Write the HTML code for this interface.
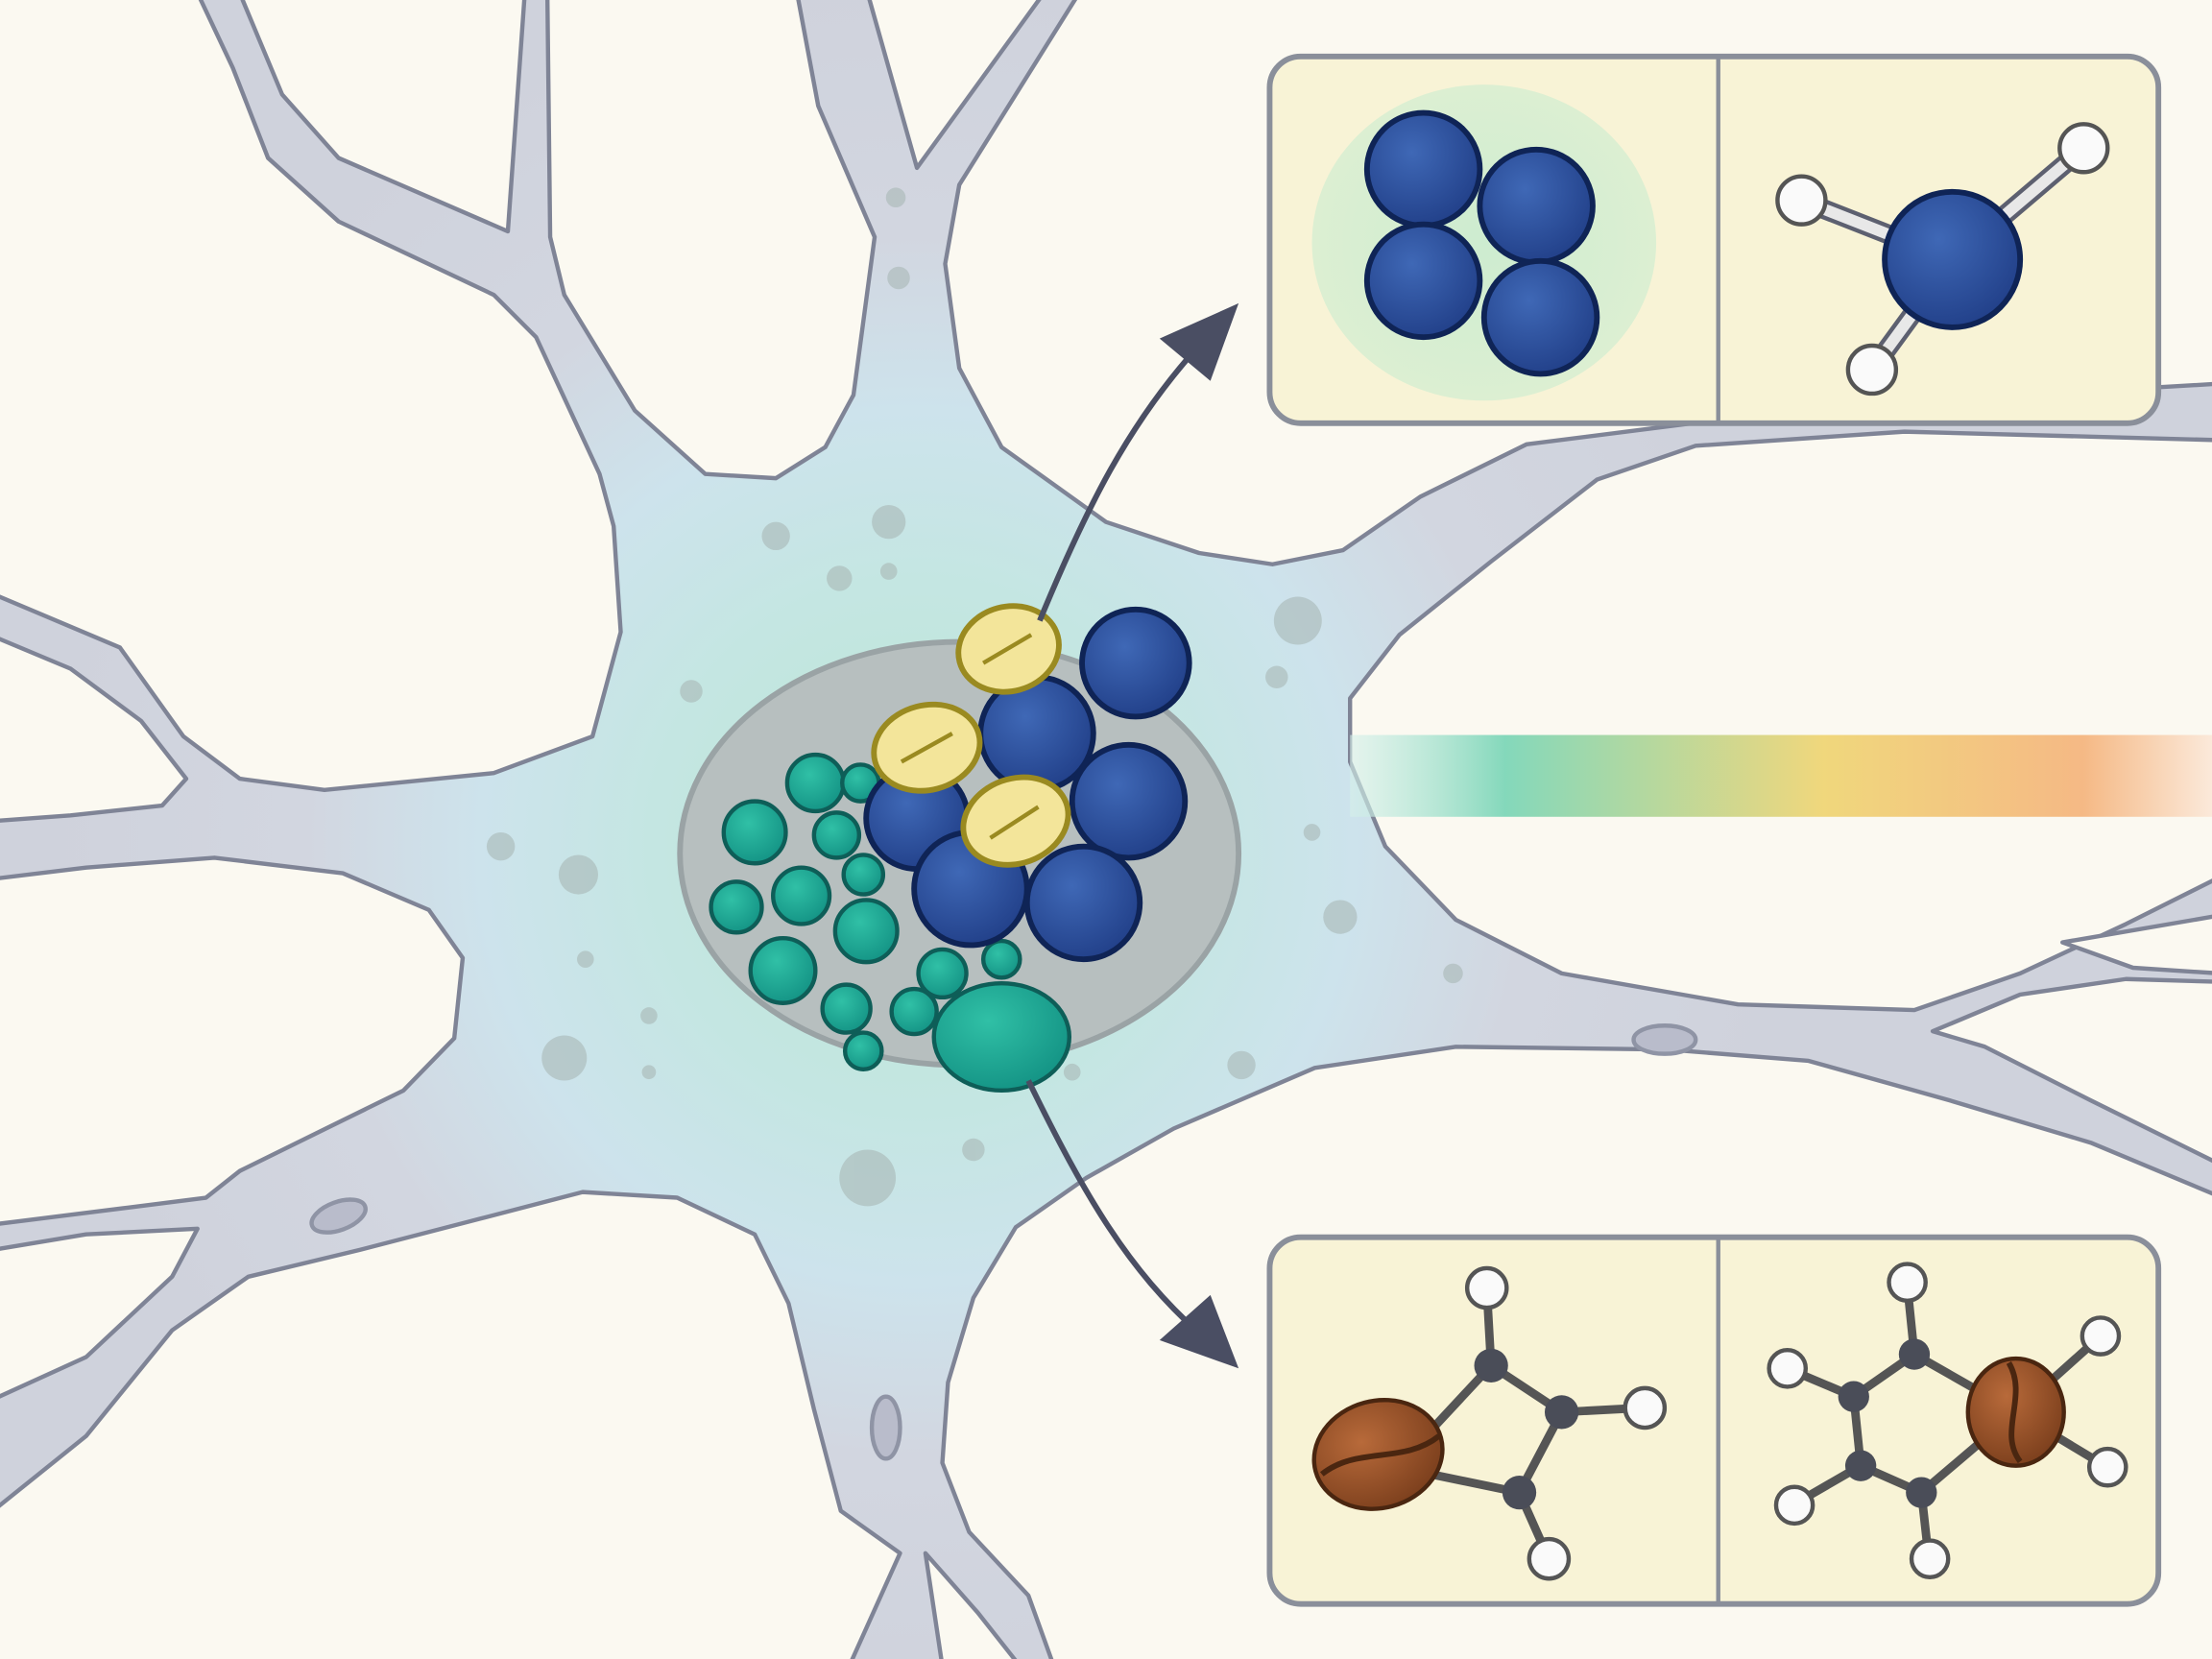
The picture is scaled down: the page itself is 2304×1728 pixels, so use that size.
<!DOCTYPE html>
<html><head><meta charset="utf-8"><style>html,body{margin:0;padding:0;background:#fbf9f1;}svg{display:block}</style></head>
<body>
<svg width="2304" height="1728" viewBox="0 0 1568 1176" xmlns="http://www.w3.org/2000/svg">
<defs>
<linearGradient id="bar" x1="0" x2="1" y1="0" y2="0">
<stop offset="0" stop-color="#d6f0ea" stop-opacity="0.6"/>
<stop offset="0.18" stop-color="#84d8bb"/>
<stop offset="0.55" stop-color="#f0d77c"/>
<stop offset="0.85" stop-color="#f5b985"/>
<stop offset="1" stop-color="#fbe9da"/>
</linearGradient>
<radialGradient id="cell" gradientUnits="userSpaceOnUse" cx="650" cy="600" r="620">
<stop offset="0" stop-color="#bce6d4"/>
<stop offset="0.3" stop-color="#c4e6e2"/>
<stop offset="0.5" stop-color="#cde3ec"/>
<stop offset="0.7" stop-color="#d2d6e0"/>
<stop offset="1" stop-color="#cfd2dc"/>
</radialGradient>
<radialGradient id="blue" cx="0.4" cy="0.35" r="0.7">
<stop offset="0" stop-color="#3f68b6"/><stop offset="1" stop-color="#213f88"/>
</radialGradient>
<radialGradient id="teal" cx="0.4" cy="0.35" r="0.7">
<stop offset="0" stop-color="#30c0a6"/><stop offset="1" stop-color="#139284"/>
</radialGradient>
<radialGradient id="glow" cx="0.5" cy="0.5" r="0.5">
<stop offset="0" stop-color="#cdecd0"/><stop offset="1" stop-color="#dcefd2"/>
</radialGradient>
<radialGradient id="bean" cx="0.4" cy="0.35" r="0.7">
<stop offset="0" stop-color="#b86a3a"/><stop offset="1" stop-color="#7a3e1c"/>
</radialGradient>
</defs>
<rect width="1568" height="1176" fill="url(#cell)"/>

<g fill="#fbf9f1" stroke="#7f8496" stroke-width="3" stroke-linejoin="round">
<path d="M-5,-5 L140,-5 L165,48 L190,112 L240,157 L350,209 L380,239 L425,336 L435,373 L440,448 L420,522 L350,548 L230,560 L170,552 L130,522 L85,459 L-5,421 Z"/>
<path d="M-5,451 L50,474 L100,511 L132,552 L115,571 L50,578 L-5,582 Z"/>
<path d="M172,-5 L172,0 L200,67 L240,112 L360,164 L372,-5 Z"/>
<path d="M388,-5 L390,168 L400,209 L450,291 L500,336 L550,339 L585,317 L605,280 L620,168 L580,75 L565,-5 Z"/>
<path d="M615,-5 L650,119 L740,-5 Z"/>
<path d="M765,-5 L680,131 L670,187 L680,261 L710,317 L784,370 L850,392 L902,400 L952,390 L1007,352 L1082,315 L1200,300 L1350,285 L1573,272 L1573,-5 Z"/>
<path d="M1573,312 L1350,306 L1202,316 L1132,340 L1057,398 L992,450 L957,495 L957,540 L982,600 L1032,652 L1107,690 L1232,712 L1357,716 L1432,690 L1507,655 L1573,622 Z"/>
<path d="M1370,731 L1432,705 L1507,694 L1573,696 L1573,825 L1482,780 L1407,742 Z"/>
<path d="M1462,668 L1573,649 L1573,690 L1512,686 Z"/>
<path d="M1573,848 L1482,810 L1382,780 L1282,752 L1182,744 L1032,742 L932,757 L832,800 L770,835 L720,870 L690,920 L672,980 L668,1037 L687,1086 L729,1131 L747,1181 L1573,1181 Z"/>
<path d="M-5,623 L61,615 L152,608 L243,619 L304,645 L328,679 L322,736 L286,773 L231,800 L170,830 L146,849 L91,856 L-5,868 Z"/>
<path d="M-5,886 L61,875 L140,871 L122,905 L61,962 L-5,992 Z"/>
<path d="M-5,1181 L-5,1071 L61,1018 L122,943 L176,905 L255,886 L340,864 L413,845 L480,849 L535,875 L559,924 L577,999 L596,1071 L638,1101 L602,1181 Z"/>
<path d="M656,1101 L693,1143 L723,1181 L668,1181 Z"/>
</g>

<rect x="957" y="521" width="611" height="58" fill="url(#bar)"/>

<g fill="#a9b8b6" opacity="0.6">
<circle cx="550" cy="380" r="10"/><circle cx="630" cy="370" r="12"/><circle cx="595" cy="410" r="9"/><circle cx="630" cy="405" r="6"/>
<circle cx="490" cy="490" r="8"/><circle cx="355" cy="600" r="10"/><circle cx="410" cy="620" r="14"/><circle cx="415" cy="680" r="6"/>
<circle cx="400" cy="750" r="16"/><circle cx="460" cy="720" r="6"/><circle cx="460" cy="760" r="5"/><circle cx="615" cy="835" r="20"/>
<circle cx="690" cy="815" r="8"/><circle cx="920" cy="440" r="17"/><circle cx="905" cy="480" r="8"/><circle cx="950" cy="650" r="12"/>
<circle cx="1030" cy="690" r="7"/><circle cx="880" cy="755" r="10"/><circle cx="760" cy="760" r="6"/><circle cx="930" cy="590" r="6"/>
<circle cx="635" cy="140" r="7"/><circle cx="637" cy="197" r="8"/>
</g>
<ellipse cx="1180" cy="737" rx="22" ry="10" fill="#b9bccb" stroke="#8f94a5" stroke-width="3"/>
<ellipse cx="240" cy="862" rx="20" ry="10" fill="#b9bccb" stroke="#8f94a5" stroke-width="3" transform="rotate(-20 240 862)"/>
<ellipse cx="628" cy="1012" rx="10" ry="22" fill="#b9bccb" stroke="#8f94a5" stroke-width="3"/>

<ellipse cx="680" cy="605" rx="198" ry="150" fill="#b7bfbf" stroke="#9aa3a5" stroke-width="4"/>

<g stroke="#0e5e58" stroke-width="3" fill="url(#teal)">
<circle cx="578" cy="555" r="20"/><circle cx="610" cy="555" r="13"/><circle cx="535" cy="590" r="22"/><circle cx="593" cy="592" r="16"/>
<circle cx="522" cy="643" r="18"/><circle cx="568" cy="635" r="20"/><circle cx="612" cy="620" r="14"/><circle cx="614" cy="660" r="22"/>
<circle cx="555" cy="688" r="23"/><circle cx="668" cy="690" r="17"/><circle cx="710" cy="680" r="13"/><circle cx="600" cy="715" r="17"/>
<circle cx="648" cy="717" r="16"/><circle cx="612" cy="745" r="13"/>
<ellipse cx="710" cy="735" rx="48" ry="38"/>
</g>
<g stroke="#0f2456" stroke-width="4" fill="url(#blue)">
<circle cx="805" cy="470" r="38"/><circle cx="735" cy="520" r="40"/><circle cx="650" cy="580" r="36"/>
<circle cx="800" cy="568" r="40"/><circle cx="688" cy="630" r="40"/><circle cx="768" cy="640" r="40"/>
</g>
<g stroke="#9a8a20" stroke-width="4" fill="#f3e59a">
<ellipse cx="715" cy="460" rx="36" ry="30" transform="rotate(-15 715 460)"/>
<ellipse cx="657" cy="530" rx="38" ry="30" transform="rotate(-15 657 530)"/>
<ellipse cx="720" cy="582" rx="38" ry="30" transform="rotate(-20 720 582)"/>
</g>
<g stroke="#9a8a20" stroke-width="3">
<line x1="697" y1="470" x2="731" y2="450"/><line x1="639" y1="540" x2="675" y2="520"/><line x1="702" y1="594" x2="736" y2="572"/>
</g>

<g fill="none" stroke="#4a4e63" stroke-width="4">
<path d="M737,440 C770,360 800,300 850,245"/>
<path d="M729,766 C770,850 800,900 850,945"/>
</g>
<polygon points="878,215 822,240 858,270" fill="#4a4e63"/>
<polygon points="878,970 822,950 858,918" fill="#4a4e63"/>

<rect x="900" y="40" width="630" height="260" rx="22" fill="#f8f3d6" stroke="#8a8f9a" stroke-width="4"/>
<line x1="1218" y1="40" x2="1218" y2="300" stroke="#8a8f9a" stroke-width="3"/>
<rect x="900" y="877" width="630" height="260" rx="22" fill="#f8f3d6" stroke="#8a8f9a" stroke-width="4"/>
<line x1="1218" y1="877" x2="1218" y2="1137" stroke="#8a8f9a" stroke-width="3"/>

<ellipse cx="1052" cy="172" rx="122" ry="112" fill="url(#glow)"/>
<g stroke="#0f2456" stroke-width="4" fill="url(#blue)">
<circle cx="1009" cy="120" r="40"/><circle cx="1089" cy="146" r="40"/><circle cx="1009" cy="199" r="40"/><circle cx="1092" cy="225" r="40"/>
</g>
<g stroke="#5d6070" stroke-width="14" stroke-linecap="round"><line x1="1384" y1="184" x2="1277" y2="142"/><line x1="1384" y1="184" x2="1477" y2="105"/><line x1="1384" y1="184" x2="1327" y2="262"/></g>
<g stroke="#e8e8e8" stroke-width="8" stroke-linecap="round"><line x1="1384" y1="184" x2="1277" y2="142"/><line x1="1384" y1="184" x2="1477" y2="105"/><line x1="1384" y1="184" x2="1327" y2="262"/></g>
<circle cx="1384" cy="184" r="48" fill="url(#blue)" stroke="#0f2456" stroke-width="4"/>
<g fill="#fafafa" stroke="#555" stroke-width="3"><circle cx="1277" cy="142" r="17"/><circle cx="1477" cy="105" r="17"/><circle cx="1327" cy="262" r="17"/></g>

<g stroke="#555" stroke-width="6" stroke-linecap="round" fill="none">
<polygon points="990,1040 1057,968 1107,1001 1077,1058"/>
<line x1="1057" y1="968" x2="1054" y2="915"/><line x1="1107" y1="1001" x2="1164" y2="998"/><line x1="1077" y1="1058" x2="1097" y2="1103"/>
<polygon points="1314,990 1357,960 1429,1001 1362,1058 1319,1039"/>
<line x1="1357" y1="960" x2="1352" y2="911"/><line x1="1314" y1="990" x2="1269" y2="971"/><line x1="1319" y1="1039" x2="1274" y2="1065"/>
<line x1="1362" y1="1058" x2="1367" y2="1103"/><line x1="1429" y1="1001" x2="1487" y2="949"/><line x1="1429" y1="1001" x2="1492" y2="1039"/>
</g>
<g fill="#4a4d58"><circle cx="1057" cy="968" r="12"/><circle cx="1107" cy="1001" r="12"/><circle cx="1077" cy="1058" r="12"/>
<circle cx="1314" cy="990" r="11"/><circle cx="1357" cy="960" r="11"/><circle cx="1319" cy="1039" r="11"/><circle cx="1362" cy="1058" r="11"/></g>
<g fill="#fafafa" stroke="#555" stroke-width="3">
<circle cx="1054" cy="913" r="14"/><circle cx="1166" cy="998" r="14"/><circle cx="1098" cy="1105" r="14"/>
<circle cx="1352" cy="909" r="13"/><circle cx="1267" cy="970" r="13"/><circle cx="1272" cy="1067" r="13"/><circle cx="1368" cy="1105" r="13"/><circle cx="1489" cy="947" r="13"/><circle cx="1494" cy="1040" r="13"/>
</g>
<ellipse cx="977" cy="1031" rx="46" ry="38" fill="url(#bean)" stroke="#4a2610" stroke-width="3" transform="rotate(-15 977 1031)"/>
<path d="M937,1045 C962,1025 995,1038 1020,1018" stroke="#4a2610" stroke-width="4" fill="none"/>
<ellipse cx="1429" cy="1001" rx="34" ry="38" fill="url(#bean)" stroke="#4a2610" stroke-width="3"/>
<path d="M1424,966 C1438,990 1416,1015 1432,1036" stroke="#4a2610" stroke-width="4" fill="none"/>
</svg>
</body></html>
